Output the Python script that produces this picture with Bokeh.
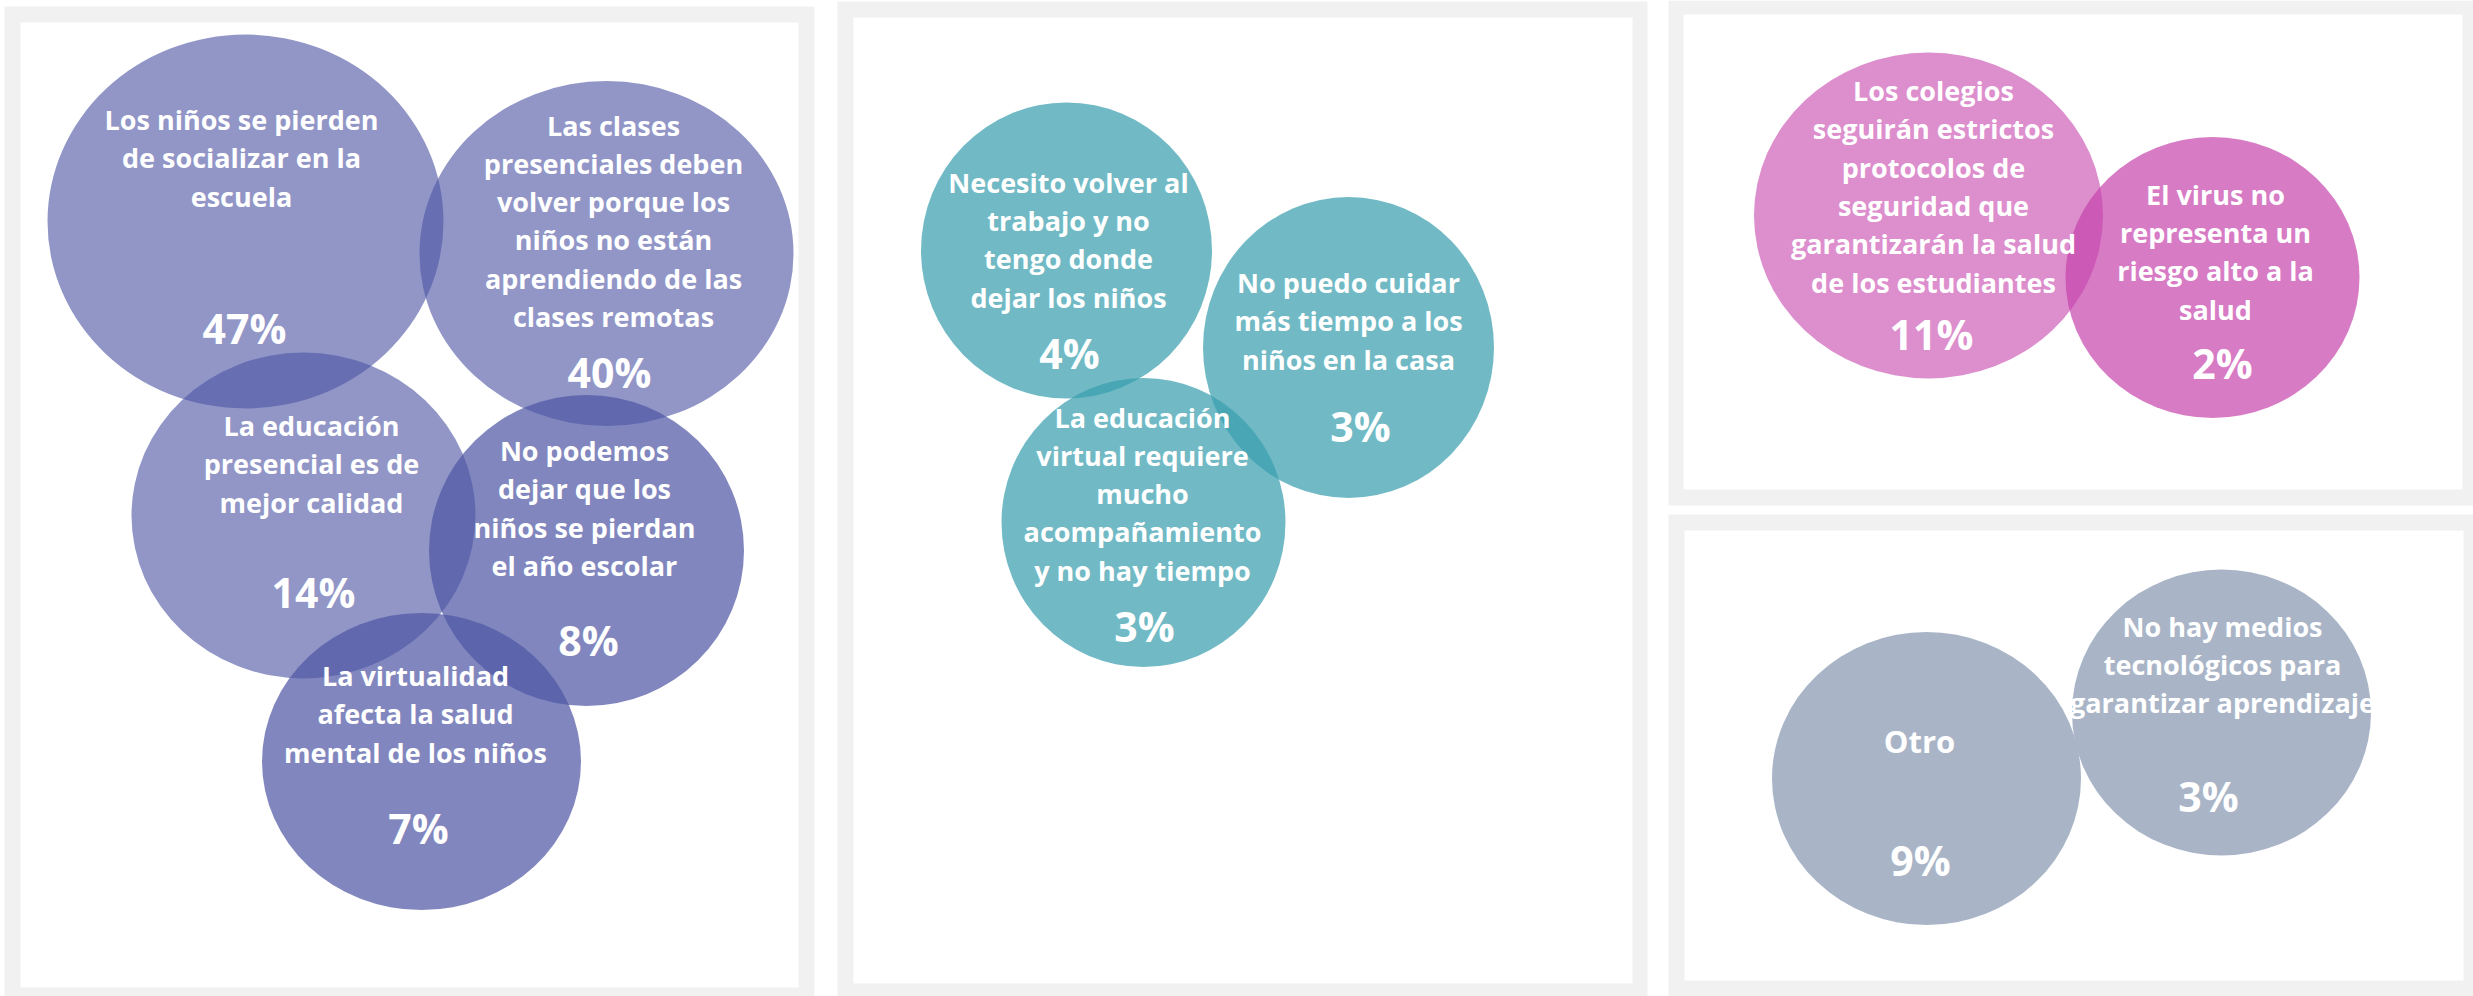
from bokeh.plotting import figure
from bokeh.models import Range1d, ColumnDataSource
from bokeh.core.properties import value
from bokeh.embed import file_html
from bokeh.resources import INLINE

# ---------------- data ----------------
labels = [
    ["Los niños se pierden", "de socializar en la", "escuela"],
    ["Las clases", "presenciales deben", "volver porque los", "niños no están", "aprendiendo de las", "clases remotas"],
    ["La educación", "presencial es de", "mejor calidad"],
    ["No podemos", "dejar que los", "niños se pierdan", "el año escolar"],
    ["La virtualidad", "afecta la salud", "mental de los niños"],
    ["Necesito volver al", "trabajo y no", "tengo donde", "dejar los niños"],
    ["No puedo cuidar", "más tiempo a los", "niños en la casa"],
    ["La educación", "virtual requiere", "mucho", "acompañamiento", "y no hay tiempo"],
    ["Los colegios", "seguirán estrictos", "protocolos de", "seguridad que", "garantizarán la salud", "de los estudiantes"],
    ["El virus no", "representa un", "riesgo alto a la", "salud"],
    ["Otro"],
    ["No hay medios", "tecnológicos para", "garantizar aprendizaje"],
]
percents = [47, 40, 14, 8, 7, 4, 3, 3, 11, 2, 9, 3]
groups = ["opinion", "opinion", "opinion", "opinion", "opinion",
          "cuidado", "cuidado", "cuidado",
          "salud", "salud",
          "otros", "otros"]

# ---------------- layout (screen pixels) ----------------
W, H = 2473, 996
panels_outer = [(4, 6, 814, 1000), (837, 1, 1647, 1000), (1668, 0, 2480, 505), (1668, 514, 2480, 1000)]
panels_inner = [(20, 22, 798, 987), (853, 17, 1632, 983), (1683, 14, 2462, 489), (1684, 530, 2463, 980)]

bub_x = [245, 606, 303, 586, 421, 1066, 1348, 1143, 1928, 2212, 1926, 2221]
bub_y = [221, 253, 515, 550, 761, 250, 347, 522, 215, 277, 778, 712]
bub_w = [396, 374, 344, 315, 319, 291, 291, 284, 349, 294, 309, 299]
bub_h = [374, 345, 326, 311, 297, 296, 301, 289, 326, 281, 293, 286]
bub_color = ["#4D56A4"] * 5 + ["#3A9FAF"] * 3 + ["#C643AC"] * 2 + ["#A9B5C7"] * 2
bub_alpha = [0.62, 0.62, 0.62, 0.71, 0.71, 0.72, 0.72, 0.72, 0.60, 0.70, 1.0, 1.0]

lab_x = [241, 613, 311, 584, 415, 1068, 1348, 1142, 1933, 2215, 1919, 2222]
lab_y0 = [119, 124.5, 425, 450, 675, 181.6, 282, 416.5, 90, 193.7, 740, 625.5]
lab_size = ["27px"] * 10 + ["31px", "27px"]
line_gap = 38.3
pct_x = [244, 609, 313, 588, 418, 1069, 1360, 1144, 1931, 2222, 1920, 2208]
pct_y = [327, 371, 591, 639, 827, 352, 425, 625, 333, 362, 859, 795]

FONT = "Open Sans"

p = figure(width=W, height=H, x_range=Range1d(0, W), y_range=Range1d(H, 0),
           output_backend="svg", toolbar_location=None, min_border=0,
           background_fill_color="white", border_fill_color="white")
p.outline_line_color = None
p.axis.visible = False
p.grid.visible = False

# panels
p.quad(left=[b[0] for b in panels_outer], top=[b[1] for b in panels_outer],
       right=[b[2] for b in panels_outer], bottom=[b[3] for b in panels_outer],
       fill_color="#F1F1F1", line_color=None)
p.quad(left=[b[0] for b in panels_inner], top=[b[1] for b in panels_inner],
       right=[b[2] for b in panels_inner], bottom=[b[3] for b in panels_inner],
       fill_color="white", line_color=None)

# bubbles
bsrc = ColumnDataSource(dict(x=bub_x, y=bub_y, w=bub_w, h=bub_h, c=bub_color, a=bub_alpha, g=groups))
p.ellipse(x="x", y="y", width="w", height="h", fill_color="c", fill_alpha="a",
          line_color=None, source=bsrc)

# label lines
tx, ty, tt, ts = [], [], [], []
for i, lines in enumerate(labels):
    for j, line in enumerate(lines):
        tx.append(lab_x[i])
        ty.append(lab_y0[i] + j * line_gap)
        tt.append(line)
        ts.append(lab_size[i])
tsrc = ColumnDataSource(dict(x=tx, y=ty, t=tt, s=ts))
p.text(x="x", y="y", text="t", text_font_size="s", source=tsrc, text_color="white",
       text_font=value(FONT), text_font_style="bold",
       text_align="center", text_baseline="middle")

# percentages
p.text(x=pct_x, y=pct_y, text=[f"{v}%" for v in percents], text_color="white",
       text_font=value(FONT), text_font_style="bold", text_font_size="41px",
       text_align="center", text_baseline="middle")

open("out.html", "w").write(file_html(p, INLINE))
